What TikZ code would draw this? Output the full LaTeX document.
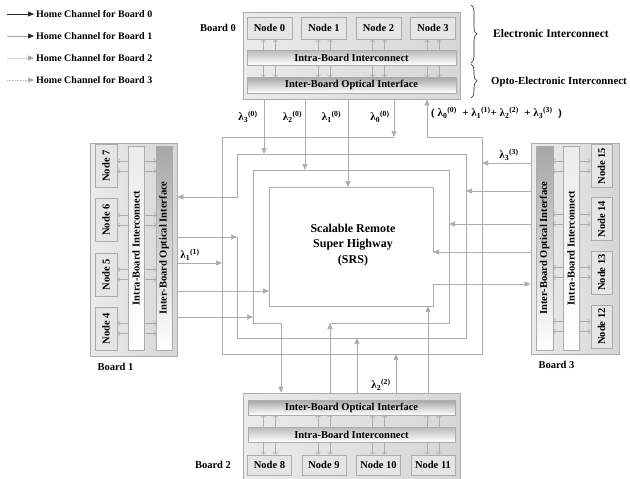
\documentclass[tikz,border=0pt]{standalone}
\usepackage{fontspec}
\setmainfont{Liberation Serif}
\usetikzlibrary{arrows.meta,decorations.pathreplacing}

\newcommand{\lam}[2]{λ\textsubscript{#1}\textsuperscript{(#2)}}

\tikzset{
  board/.style={draw=gray!65, left color=gray!16, right color=gray!32,
    line width=0.8pt, inner sep=0pt},
  nodebox/.style={draw=gray!65, fill=gray!20, line width=0.7pt, inner sep=0pt,
    font=\bfseries\fontsize{10.5}{12}\selectfont},
  hbar/.style={draw=gray!65, top color=gray!55, bottom color=white,
    line width=0.7pt, inner sep=0pt, font=\bfseries\fontsize{10.5}{12}\selectfont},
  vbar/.style={hbar, top color=gray!15, bottom color=white},
  optbar/.style={hbar, top color=gray!70, bottom color=white},
  chan/.style={draw=gray!65, line width=0.6pt},
  tip/.style={-{Triangle[length=6pt,width=5pt]}},
  link/.style={draw=gray!65, line width=0.5pt, -{Straight Barb[length=2.5pt,width=5pt]}},
  txt/.style={inner sep=0pt, font=\bfseries\fontsize{10.5}{12}\selectfont},
  lamtxt/.style={inner sep=0pt, font=\bfseries\fontsize{11}{13}\selectfont},
  legtxt/.style={txt, anchor=west, font=\bfseries\fontsize{10}{12}\selectfont},
}

\begin{document}
\begin{tikzpicture}[x=1pt,y=-1pt]
\useasboundingbox (0,0) rectangle (630,479);

% legend
\node[legtxt] (leg0) at (36,14) {Home Channel for Board 0};
\node[legtxt] (leg1) at (36,36) {Home Channel for Board 1};
\node[legtxt] (leg2) at (36,58) {Home Channel for Board 2};
\node[legtxt] (leg3) at (36,80) {Home Channel for Board 3};
\draw[black!85, line width=0.6pt, -{Triangle[length=6pt,width=5pt]}] (7,14) -- ([xshift=-2pt]leg0.west);
\draw[gray!70, line width=0.6pt, -{Triangle[length=6pt,width=5pt,black!85]}] (7,36) -- ([xshift=-2pt]leg1.west);
\draw[gray!35, line width=0.6pt, -{Triangle[length=6pt,width=5pt,gray!70]}] (7,58) -- ([xshift=-2pt]leg2.west);
\draw[gray!55, line width=0.6pt, densely dotted, -{Triangle[length=6pt,width=5pt,gray!70]}] (7,80) -- ([xshift=-2pt]leg3.west);

% board 0 (top)
\node[board, minimum width=217pt, minimum height=87pt] (b0) at (351.5,55.5) {};
\node[txt] (lb0) at (218,28) {Board 0};
\node[hbar, minimum width=209pt, minimum height=15pt] (i0) at (351.5,57.5) {Intra-Board Interconnect};
\node[optbar, minimum width=209pt, minimum height=16pt] (o0) at (351.5,85) {Inter-Board Optical Interface};
\foreach \i/\xx in {0/269.5,1/324,2/378.5,3/433}{
  \node[nodebox, minimum width=45pt, minimum height=22pt] (n\i) at (\xx,28) {Node \i};
  \foreach \d in {-6,6}{
    \draw[link] (n\i.south) ++(\d,11) -- ++(0,-11);
    \draw[link] (n\i.south) ++(\d,26) -- ++(0,12);
  }
}

% board 2 (bottom)
\node[board, minimum width=217pt, minimum height=86pt] (b2) at (351.5,436) {};
\node[txt] (lb2) at (213,465) {Board 2};
\node[optbar, minimum width=207pt, minimum height=15pt] (o2) at (351.5,407.5) {Inter-Board Optical Interface};
\node[hbar, minimum width=207pt, minimum height=15pt] (i2) at (351.5,434.5) {Intra-Board Interconnect};
\foreach \i/\xx in {8/269.5,9/324,10/378.5,11/433}{
  \node[nodebox, minimum width=44pt, minimum height=20pt] (n\i) at (\xx,465) {Node \i};
  \foreach \d in {-6,6}{
    \draw[link] (n\i.north) ++(\d,-13) -- ++(0,13);
    \draw[link] (n\i.north) ++(\d,-28) -- ++(0,-12);
  }
}

% board 1 (left)
\node[board, minimum width=87pt, minimum height=213pt] (b1) at (133.5,249.5) {};
\node[txt] (lb1) at (115.5,367) {Board 1};
\node[vbar, minimum width=16pt, minimum height=204pt] (i1) at (136,248) {\rotatebox{90}{Intra-Board Interconnect}};
\node[optbar, minimum width=16pt, minimum height=204pt] (o1) at (164,248) {\rotatebox{90}{Inter-Board Optical Interface}};
\foreach \i/\yy in {7/166,6/220,5/274.5,4/328.5}{
  \node[nodebox, minimum width=22pt, minimum height=43pt] (n\i) at (106,\yy) {\rotatebox{90}{Node \i}};
  \foreach \d in {-5,5}{
    \draw[link] (n\i.east) ++(11,\d) -- ++(-11,0);
    \draw[link] (n\i.east) ++(27,\d) -- ++(12,0);
  }
}

% board 3 (right)
\node[board, minimum width=88pt, minimum height=211pt] (b3) at (575,248.5) {};
\node[txt] (lb3) at (556.5,365) {Board 3};
\node[optbar, minimum width=17pt, minimum height=204pt] (o3) at (544.5,248) {\rotatebox{90}{Inter-Board Optical Interface}};
\node[vbar, minimum width=16pt, minimum height=204pt] (i3) at (571,248) {\rotatebox{90}{Intra-Board Interconnect}};
\foreach \i/\yy in {15/166,14/219,13/272.5,12/326.5}{
  \node[nodebox, minimum width=21pt, minimum height=43pt] (n\i) at (601.5,\yy) {\rotatebox{90}{Node \i}};
  \foreach \d in {-5,5}{
    \draw[link] (n\i.west) ++(-12,\d) -- ++(12,0);
    \draw[link] (n\i.west) ++(-28,\d) -- ++(-10,0);
  }
}

% braces
\draw[gray!30!black, line width=0.6pt, decorate, decoration={brace, amplitude=6pt}] (471,5) -- (471,63);
\draw[gray!30!black, line width=0.6pt, decorate, decoration={brace, amplitude=6pt}] (471,64) -- (471,98);
\node[txt, anchor=west, font=\bfseries\fontsize{11.5}{13}\selectfont] (ei) at (493,34) {Electronic Interconnect};
\node[txt, anchor=west, font=\bfseries\fontsize{10.8}{13}\selectfont] (oei) at (491,82) {Opto-Electronic Interconnect};

% SRS
\node[txt, align=center, font=\bfseries\fontsize{12}{15.5}\selectfont] (srs) at (353,245) {Scalable Remote\\Super Highway\\(SRS)};

% home channel rings
\draw[chan, tip] (394,137) -- (222,137) -- (222,354) -- (482,354) -- (482,137) -- (427,137) -- (b0.south -| 427,0);
\draw[chan, tip] (237,237) -- (237,338) -- (466,338) -- (466,154) -- (237,154) -- (237,197) -- (b1.east |- 0,197);
\draw[chan, tip] (330,323) -- (449,323) -- (449,170) -- (253,170) -- (253,323) -- (281,323) -- (b2.north -| 281,0);
\draw[chan, tip] (433,252) -- (433,187) -- (269,187) -- (269,306) -- (433,306) -- (433,284) -- (b3.west |- 0,284);

% board outputs
\foreach \xx/\yy in {264/154,305/170,348/187,394/137}
  \draw[chan, tip] (b0.south -| \xx,0) -- (\xx,\yy);
\foreach \yy/\xx in {237/237,263/222,291/269,317/253}
  \draw[chan, tip] (b1.east |- 0,\yy) -- (\xx,\yy);
\foreach \xx/\yy in {330/323,357/338,396/354,428/306}
  \draw[chan, tip] (b2.north -| \xx,0) -- (\xx,\yy);
\foreach \yy/\xx in {163/482,191/466,224/449,252/433}
  \draw[chan, tip] (b3.west |- 0,\yy) -- (\xx,\yy);

% wavelength labels
\foreach \k/\xx in {3/248,2/292.5,1/331.5,0/380}
  \node[lamtxt] (l\k) at (\xx,117) {\lam{\k}{0}};
\node[lamtxt, anchor=west] (lsum) at (431,113) {(\ \lam{0}{0}\ \ + \lam{1}{1}+ \lam{2}{2}\ \ + \lam{3}{3}\ \ )};
\node[lamtxt] (l11) at (190,255) {\lam{1}{1}};
\node[lamtxt] (l33) at (509,155) {\lam{3}{3}};
\node[lamtxt] (l22) at (381,385) {\lam{2}{2}};
\end{tikzpicture}
\end{document}
